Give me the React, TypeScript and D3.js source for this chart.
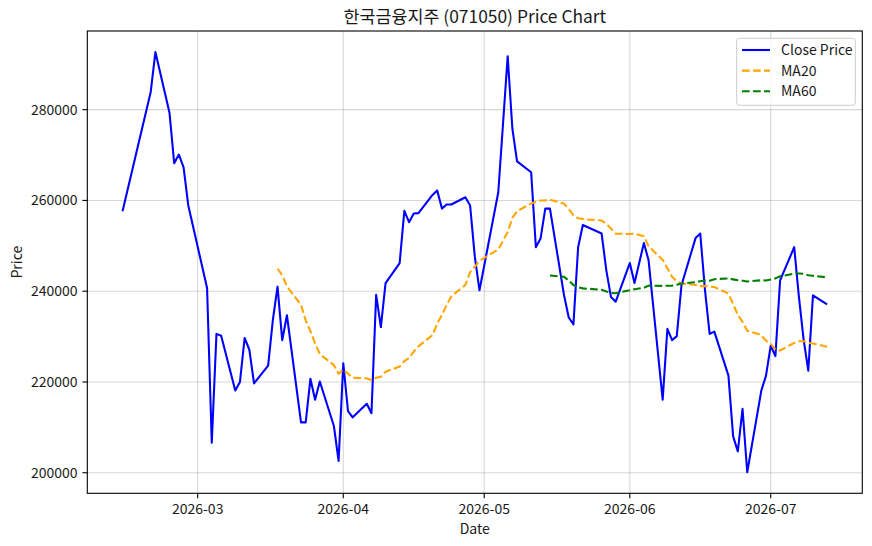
import React from "react";
import * as d3 from "d3";

const TITLE = "한국금융지주 (071050) Price Chart";
const X_LABEL = "Date";
const Y_LABEL = "Price";
const SERIES_NAMES = ["Close Price", "MA20", "MA60"];

// Korean trading days (KRX), Feb 13 – Jul 13, 2026
const DATES = [
  "2026-02-13", "2026-02-19", "2026-02-20", "2026-02-23", "2026-02-24", "2026-02-25", "2026-02-26", "2026-02-27",
  "2026-03-03", "2026-03-04", "2026-03-05", "2026-03-06", "2026-03-09", "2026-03-10", "2026-03-11", "2026-03-12",
  "2026-03-13", "2026-03-16", "2026-03-17", "2026-03-18", "2026-03-19", "2026-03-20", "2026-03-23", "2026-03-24",
  "2026-03-25", "2026-03-26", "2026-03-27", "2026-03-30", "2026-03-31",
  "2026-04-01", "2026-04-02", "2026-04-03", "2026-04-06", "2026-04-07", "2026-04-08", "2026-04-09", "2026-04-10",
  "2026-04-13", "2026-04-14", "2026-04-15", "2026-04-16", "2026-04-17", "2026-04-20", "2026-04-21", "2026-04-22",
  "2026-04-23", "2026-04-24", "2026-04-27", "2026-04-28", "2026-04-29", "2026-04-30",
  "2026-05-04", "2026-05-06", "2026-05-07", "2026-05-08", "2026-05-11", "2026-05-12", "2026-05-13", "2026-05-14",
  "2026-05-15", "2026-05-18", "2026-05-19", "2026-05-20", "2026-05-21", "2026-05-22", "2026-05-26", "2026-05-27",
  "2026-05-28", "2026-05-29",
  "2026-06-01", "2026-06-02", "2026-06-04", "2026-06-05", "2026-06-08", "2026-06-09", "2026-06-10", "2026-06-11",
  "2026-06-12", "2026-06-15", "2026-06-16", "2026-06-17", "2026-06-18", "2026-06-19", "2026-06-22", "2026-06-23",
  "2026-06-24", "2026-06-25", "2026-06-26", "2026-06-29", "2026-06-30",
  "2026-07-01", "2026-07-02", "2026-07-03", "2026-07-06", "2026-07-07", "2026-07-08", "2026-07-09", "2026-07-10",
  "2026-07-13",
];

const CLOSE = [
  257600, 283900, 292700, 279300, 268200, 270100, 267300, 258900,
  240700, 206600, 230600, 230200, 218100, 220000, 229700, 227100, 219700, 223600, 233600, 241000,
  229200, 234700, 211100, 211100, 220700, 216100, 220100, 210300, 202600,
  224100, 213600, 212200, 215200, 213100, 239200, 232100, 241800, 246200, 257700, 255200,
  257100, 257200, 261200, 262200, 258200, 259100, 259100, 260700, 258900, 247600, 240200,
  261800, 291750, 275800, 268600, 266200, 249700, 251600, 258200, 258200, 239100,
  234200, 232700, 249700, 254600, 252700, 244600, 238700, 237700,
  246200, 241800, 250600, 246800, 216100, 231700, 229200, 230100, 241300, 251700, 252700,
  240300, 230600, 231100, 221400, 208000, 204700, 214100, 200100, 218100, 221400,
  228000, 225700, 242400, 249700, 238800, 229400, 222500, 239100, 237100,
];

// MA20 values, first one on 2026-03-18 (20th trading day)
const MA20 = [
  244945, 243525, 241065, 236985, 233575, 231200, 228500, 226140, 223710, 221805,
  222680, 221830, 220930, 220785, 220440, 220915, 221165, 222270, 223400, 224605, 225315,
  226710, 227835, 230340, 232895, 234770, 236920, 238870, 241390, 244205, 245380, 246710,
  249190, 253018, 256153, 257623, 259328, 259723, 259993, 260018, 260168, 259268,
  258118, 256693, 256068, 255888, 255568, 254843, 253743, 252683,
  252613, 252693, 252133, 249885, 246900, 245055, 243205, 242225, 241710, 241385, 241110,
  241170, 240990, 240910, 239495, 237165, 234765, 233240, 231310, 230330, 229090,
  228400, 227155, 226935, 228615, 228970, 228980, 228600, 228490, 227760,
];

// MA60 values, first one on 2026-05-15 (60th trading day)
const MA60 = [
  243476, 243168, 242339, 241339, 240846, 240619, 240329, 239951, 239614, 239564,
  240224, 240411, 240751, 241229, 241164, 241198, 241233, 241406, 241701, 242003, 242198,
  242383, 242314, 242648, 242819, 242608, 242418, 242318, 242148, 242406, 242361,
  242601, 242826, 243279, 243889, 243883, 243838, 243516, 243398, 243054,
];

const Y_TICKS = [200000, 220000, 240000, 260000, 280000];
const X_TICKS = ["2026-03-01", "2026-04-01", "2026-05-01", "2026-06-01", "2026-07-01"];

const FONT = "'Noto Sans CJK KR', 'Noto Sans', sans-serif";
const TEXT = "#1a1a1a";

export default function App() {
  const W = 872;
  const H = 546;
  const L = 87.3, R = 862.3, T = 31, B = 493.3;

  const parse = d3.utcParse("%Y-%m-%d");
  const dates = DATES.map((s) => parse(s) as Date);
  const [d0, d1] = d3.extent(dates) as [Date, Date];
  const span = +d1 - +d0;
  const x = d3
    .scaleUtc()
    .domain([new Date(+d0 - span * 0.05), new Date(+d1 + span * 0.05)])
    .range([L, R]);

  const allVals = CLOSE.concat(MA20, MA60);
  const [v0, v1] = d3.extent(allVals) as [number, number];
  const vs = v1 - v0;
  const y = d3.scaleLinear().domain([v0 - vs * 0.05, v1 + vs * 0.05]).range([B, T]);

  const line = d3
    .line<[Date, number]>()
    .x((d) => x(d[0]))
    .y((d) => y(d[1]));

  const closeData: [Date, number][] = CLOSE.map((v, i) => [dates[i], v]);
  const ma20Data: [Date, number][] = MA20.map((v, i) => [dates[i + 19], v]);
  const ma60Data: [Date, number][] = MA60.map((v, i) => [dates[i + 59], v]);

  const xTicks = X_TICKS.map((s) => parse(s) as Date);
  const fmt = d3.utcFormat("%Y-%m");

  const dash = "7.7,3.3";
  const lw = 2.08;
  const colors = ["#0000ff", "#ffa500", "#008000"];

  // legend
  const lgX = 736.7, lgY = 38.3, lgW = 118.6, lgH = 67;
  const rowY = [50, 70.6, 91.2];

  return (
    <svg
      width={W}
      height={H}
      style={{ position: "absolute", left: 0, top: 0, background: "#fff" }}
      fontFamily={FONT}
    >
      <rect x={0} y={0} width={W} height={H} fill="#fff" />
      <defs>
        <clipPath id="plotclip">
          <rect x={L} y={T} width={R - L} height={B - T} />
        </clipPath>
      </defs>

      {/* grid */}
      <g stroke="#b0b0b0" strokeOpacity={0.5} strokeWidth={1.1}>
        {xTicks.map((t, i) => (
          <line key={"gx" + i} x1={x(t)} x2={x(t)} y1={T} y2={B} />
        ))}
        {Y_TICKS.map((t, i) => (
          <line key={"gy" + i} x1={L} x2={R} y1={y(t)} y2={y(t)} />
        ))}
      </g>

      {/* series */}
      <g clipPath="url(#plotclip)" fill="none" strokeLinejoin="round">
        <path d={line(closeData) || ""} stroke={colors[0]} strokeWidth={lw} />
        <path d={line(ma20Data) || ""} stroke={colors[1]} strokeWidth={lw} strokeDasharray={dash} />
        <path d={line(ma60Data) || ""} stroke={colors[2]} strokeWidth={lw} strokeDasharray={dash} />
      </g>

      {/* spines */}
      <rect x={L} y={T} width={R - L} height={B - T} fill="none" stroke="#000" strokeWidth={1.1} />

      {/* x ticks */}
      {xTicks.map((t, i) => (
        <g key={"xt" + i}>
          <line x1={x(t)} x2={x(t)} y1={B} y2={B + 4.9} stroke="#000" strokeWidth={1.1} />
          <text x={x(t)} y={B + 9.8} dy="0.76em" textAnchor="middle" fontSize={14} fill={TEXT}>
            {fmt(t)}
          </text>
        </g>
      ))}

      {/* y ticks */}
      {Y_TICKS.map((t, i) => (
        <g key={"yt" + i}>
          <line x1={L - 4.9} x2={L} y1={y(t)} y2={y(t)} stroke="#000" strokeWidth={1.1} />
          <text x={L - 9.8} y={y(t)} dy="0.36em" textAnchor="end" fontSize={14} fill={TEXT}>
            {String(t)}
          </text>
        </g>
      ))}

      {/* labels */}
      <text x={(L + R) / 2} y={534} textAnchor="middle" fontSize={14} fill={TEXT}>
        {X_LABEL}
      </text>
      <text
        transform={`translate(22,${(T + B) / 2}) rotate(-90)`}
        textAnchor="middle"
        fontSize={14}
        fill={TEXT}
      >
        {Y_LABEL}
      </text>
      <text x={(L + R) / 2} y={22.7} textAnchor="middle" fontSize={17.4} fill={TEXT}>
        {TITLE}
      </text>

      {/* legend */}
      <rect
        x={lgX}
        y={lgY}
        width={lgW}
        height={lgH}
        rx={3}
        fill="#fff"
        fillOpacity={0.8}
        stroke="#cccccc"
        strokeWidth={1}
      />
      {SERIES_NAMES.map((name, i) => (
        <g key={"lg" + i}>
          <line
            x1={742}
            x2={770}
            y1={rowY[i]}
            y2={rowY[i]}
            stroke={colors[i]}
            strokeWidth={lw}
            strokeDasharray={i === 0 ? undefined : dash}
          />
          <text x={781} y={rowY[i]} dy="0.36em" fontSize={14} fill={TEXT}>
            {name}
          </text>
        </g>
      ))}
    </svg>
  );
}
